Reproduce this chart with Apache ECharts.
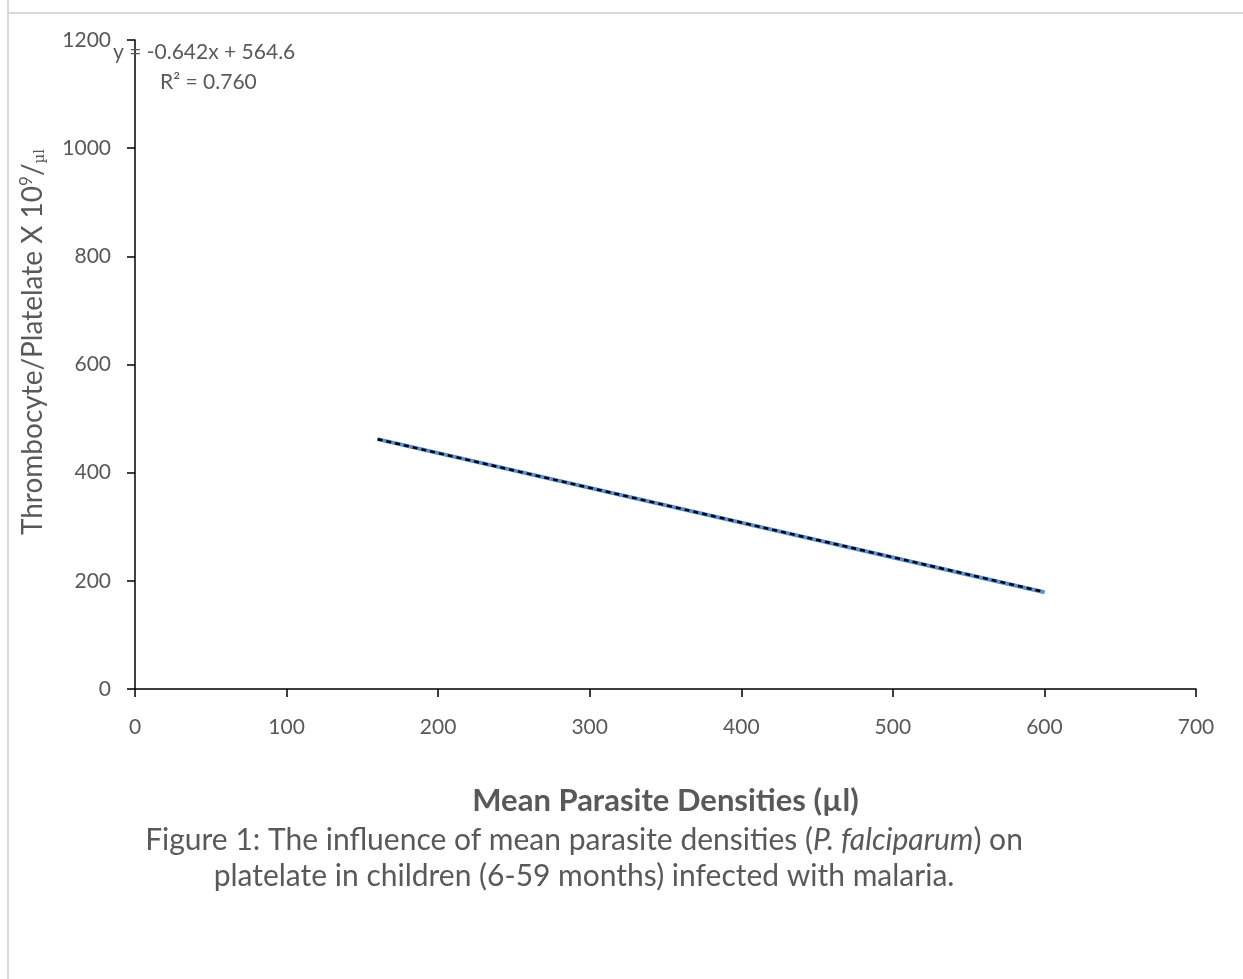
<!DOCTYPE html>
<html>
<head>
<meta charset="utf-8">
<script src="https://cdn.jsdelivr.net/npm/echarts@6/dist/echarts.min.js"></script>
<style>
  html,body{margin:0;padding:0;background:#fff;}
  #chart{width:1243px;height:979px;}
</style>
</head>
<body>
<div id="chart"></div>
<script>
// values
var densityX = [160, 600]
var plateletY = [462, 179]
var trendX = [160, 600]
var trendY = [461.9, 179.4]
var xTicks = [0, 100, 200, 300, 400, 500, 600, 700]
var yTicks = [0, 200, 400, 600, 800, 1000, 1200]
var equationText = 'y = -0.642x + 564.6'
var r2Text = 'R² = 0.760'

var font = 'Lato, "Open Sans", sans-serif'
var grey = '#595959'

var myChart = echarts.init(document.getElementById('chart'))
var option = {
  animation: false,
  backgroundColor: '#fff',
  grid: {left: 135, right: 47, top: 40, bottom: 290},
  xAxis: {
    type: 'value',
    min: xTicks[0],
    max: xTicks[xTicks.length - 1],
    interval: 100,
    name: 'Mean Parasite Densities (µl)',
    nameLocation: 'middle',
    nameGap: 96,
    nameTextStyle: {color: grey, fontSize: 31, fontWeight: 'bold', fontFamily: font},
    axisLine: {lineStyle: {color: '#000', width: 1.5}},
    axisTick: {show: true, length: 8, lineStyle: {color: '#000', width: 1.5}},
    axisLabel: {color: grey, fontSize: 21, margin: 28, fontFamily: font},
    splitLine: {show: false}
  },
  yAxis: {
    type: 'value',
    min: yTicks[0],
    max: yTicks[yTicks.length - 1],
    interval: 200,
    axisLine: {show: true, lineStyle: {color: '#000', width: 1.5}},
    axisTick: {show: true, length: 8, lineStyle: {color: '#000', width: 1.5}},
    axisLabel: {color: grey, fontSize: 21, margin: 24, fontFamily: font,
      formatter: function (v) { return String(v) }},
    splitLine: {show: false}
  },
  series: [
    {
      name: 'Platelate',
      type: 'line',
      data: densityX.map(function (x, i) { return [x, plateletY[i]] }),
      symbol: 'none',
      lineStyle: {color: '#5b8fd1', width: 4},
      z: 2
    },
    {
      name: 'Linear trend',
      type: 'line',
      data: trendX.map(function (x, i) { return [x, trendY[i]] }),
      symbol: 'none',
      lineStyle: {color: '#000', width: 2.5, type: [5, 4]},
      z: 3
    }
  ],
  graphic: [
    {type: 'line', shape: {x1: 8, y1: 0, x2: 8, y2: 979}, style: {stroke: '#d9d9d9', lineWidth: 2}},
    {type: 'line', shape: {x1: 8, y1: 13, x2: 1243, y2: 13}, style: {stroke: '#d9d9d9', lineWidth: 2}},
    {type: 'text', left: 113, top: 42, z: 10,
      style: {text: equationText, fill: grey, font: '21px ' + font}},
    {type: 'text', left: 160, top: 72, z: 10,
      style: {text: r2Text, fill: grey, font: '21px ' + font}},
    {type: 'text', x: 33, y: 342, rotation: Math.PI / 2,
      style: {
        text: '{n|Thrombocyte/Platelate X 10}{sup|9}{n|/}{sub|µl}',
        align: 'center', verticalAlign: 'middle',
        rich: {
          n: {fontSize: 28, fill: grey, fontFamily: font},
          sup: {fontSize: 17, fill: grey, fontFamily: font, verticalAlign: 'top', padding: [0, 0, 12, 0]},
          sub: {fontSize: 15, fill: grey, fontFamily: 'DejaVu Serif', verticalAlign: 'bottom', padding: [10, 0, 0, 0]}
        }
      }},
    {type: 'text', x: 584, y: 822,
      style: {
        text: '{n|Figure 1: The influence of mean parasite densities (}{i|P. falciparum}{n|) on}\n{n|platelate in children (6-59 months) infected with malaria.}',
        align: 'center', lineHeight: 36,
        rich: {
          n: {fontSize: 30, fill: grey, fontFamily: font, lineHeight: 36},
          i: {fontSize: 30, fill: grey, fontFamily: font, fontStyle: 'italic', lineHeight: 36}
        }
      }}
  ]
}
myChart.setOption(option)
window.addEventListener('resize', function () { myChart.resize() })
</script>
</body>
</html>
